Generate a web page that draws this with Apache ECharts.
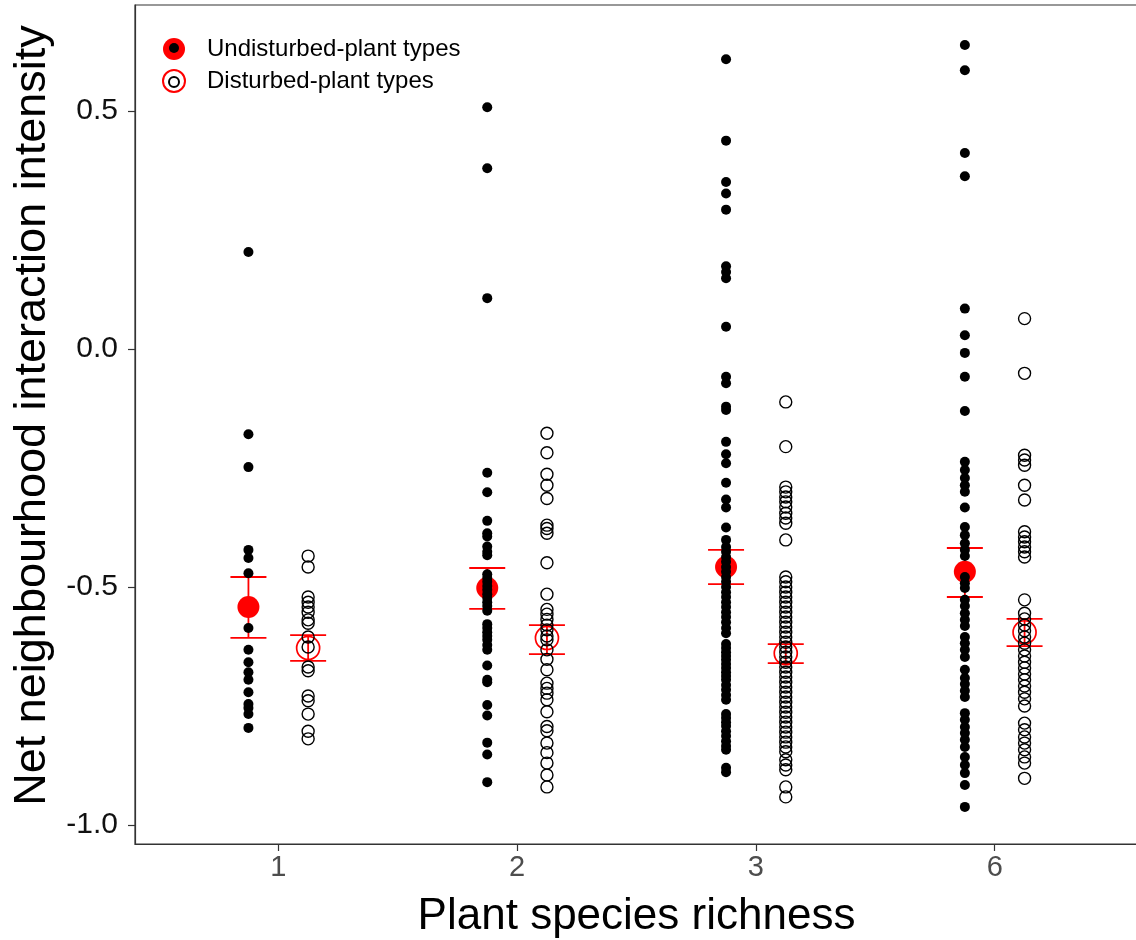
<!DOCTYPE html>
<html>
<head>
<meta charset="utf-8">
<title>Net neighbourhood interaction intensity</title>
<script src="https://cdn.jsdelivr.net/npm/echarts@6.0.0/dist/echarts.min.js"></script>
<style>
  html, body { margin: 0; padding: 0; background: #fff; }
  #chart { width: 1136px; height: 940px; }
</style>
</head>
<body>
<div id="chart"></div>
<script>
const richness = ['1', '2', '3', '6']

// raw NInt values per richness level
const undisturbed = [
  [0.204, -0.179, -0.248, -0.422, -0.439, -0.471, -0.586, -0.632, -0.658, -0.679, -0.695, -0.721, -0.746, -0.754, -0.767, -0.796],
  [0.508, 0.380, 0.107, -0.260, -0.301, -0.361, -0.387, -0.394, -0.415, -0.426, -0.433, -0.473, -0.481, -0.489, -0.498, -0.506, -0.515, -0.523, -0.532, -0.540, -0.550, -0.578, -0.586, -0.595, -0.603, -0.611, -0.622, -0.632, -0.665, -0.695, -0.700, -0.748, -0.770, -0.827, -0.852, -0.910],
  [0.609, 0.438, 0.351, 0.327, 0.293, 0.174, 0.162, 0.149, 0.047, -0.058, -0.072, -0.121, -0.128, -0.195, -0.221, -0.240, -0.281, -0.316, -0.333, -0.375, -0.401, -0.416, -0.426, -0.437, -0.447, -0.458, -0.468, -0.479, -0.489, -0.500, -0.511, -0.521, -0.532, -0.542, -0.553, -0.563, -0.574, -0.586, -0.597, -0.620, -0.628, -0.637, -0.645, -0.653, -0.662, -0.670, -0.679, -0.687, -0.695, -0.706, -0.716, -0.727, -0.737, -0.767, -0.775, -0.784, -0.792, -0.803, -0.813, -0.824, -0.834, -0.842, -0.880, -0.889],
  [0.639, 0.586, 0.412, 0.363, 0.085, 0.029, -0.008, -0.058, -0.130, -0.237, -0.254, -0.271, -0.286, -0.300, -0.333, -0.374, -0.391, -0.408, -0.422, -0.435, -0.479, -0.492, -0.502, -0.527, -0.540, -0.555, -0.569, -0.582, -0.605, -0.618, -0.632, -0.647, -0.674, -0.691, -0.704, -0.718, -0.731, -0.765, -0.779, -0.794, -0.807, -0.821, -0.836, -0.857, -0.874, -0.891, -0.916, -0.962],
]
const disturbed = [
  [-0.435, -0.458, -0.521, -0.532, -0.542, -0.553, -0.569, -0.576, -0.605, -0.626, -0.668, -0.676, -0.729, -0.739, -0.767, -0.803, -0.819],
  [-0.177, -0.218, -0.263, -0.286, -0.314, -0.370, -0.377, -0.387, -0.449, -0.515, -0.547, -0.557, -0.568, -0.580, -0.590, -0.603, -0.611, -0.632, -0.652, -0.674, -0.702, -0.713, -0.723, -0.737, -0.762, -0.793, -0.802, -0.828, -0.848, -0.870, -0.895, -0.920],
  [-0.111, -0.205, -0.290, -0.300, -0.311, -0.321, -0.332, -0.345, -0.355, -0.366, -0.401, -0.479, -0.489, -0.500, -0.511, -0.521, -0.532, -0.542, -0.553, -0.563, -0.574, -0.584, -0.595, -0.605, -0.616, -0.626, -0.637, -0.647, -0.658, -0.668, -0.679, -0.689, -0.700, -0.710, -0.721, -0.731, -0.742, -0.752, -0.763, -0.773, -0.784, -0.794, -0.805, -0.815, -0.826, -0.836, -0.846, -0.863, -0.874, -0.884, -0.920, -0.941],
  [0.064, -0.051, -0.223, -0.233, -0.244, -0.286, -0.317, -0.384, -0.395, -0.405, -0.416, -0.426, -0.437, -0.527, -0.555, -0.567, -0.580, -0.592, -0.605, -0.618, -0.632, -0.645, -0.658, -0.670, -0.683, -0.695, -0.708, -0.721, -0.735, -0.750, -0.786, -0.800, -0.815, -0.828, -0.842, -0.857, -0.870, -0.902],
]

// group means with error bar limits
const meanU = [-0.542, -0.502, -0.458, -0.468]
const lowU = [-0.607, -0.546, -0.494, -0.521]
const highU = [-0.479, -0.460, -0.422, -0.418]
const meanD = [-0.628, -0.607, -0.639, -0.595]
const lowD = [-0.655, -0.641, -0.660, -0.624]
const highD = [-0.601, -0.580, -0.620, -0.567]

const yTicks = [-1, -0.5, 0, 0.5]
const DODGE = 0.125
const FONT = "'Liberation Sans', Arial, sans-serif"

const posU = (i) => i + 1 - DODGE
const posD = (i) => i + 1 + DODGE

const pointsOf = (groups, pos) => groups.flatMap((vals, i) => vals.map(v => [pos(i), v]))

function renderErrorBar(params, api) {
  const x = api.value(0)
  const top = api.coord([x, api.value(2)])
  const bot = api.coord([x, api.value(1)])
  const half = 18
  const style = { stroke: '#ff0000', lineWidth: 1.8 }
  return {
    type: 'group',
    children: [
      { type: 'line', shape: { x1: top[0], y1: top[1], x2: bot[0], y2: bot[1] }, style },
      { type: 'line', shape: { x1: top[0] - half, y1: top[1], x2: top[0] + half, y2: top[1] }, style },
      { type: 'line', shape: { x1: bot[0] - half, y1: bot[1], x2: bot[0] + half, y2: bot[1] }, style },
    ],
  }
}

const chart = echarts.init(document.getElementById('chart'))
chart.setOption({
  animation: false,
  backgroundColor: '#fff',
  textStyle: { fontFamily: FONT },
  grid: {
    left: 135, right: -2, top: 5, bottom: 96,
    outerBoundsMode: 'none', containLabel: false,
    show: true, borderColor: '#333', borderWidth: 1.2,
  },
  legend: [
    {
      left: 157, top: 32, orient: 'vertical', selectedMode: false,
      itemWidth: 22, itemHeight: 22, itemGap: 8,
      data: ['Undisturbed-plant types', 'Disturbed-plant types'],
      textStyle: { fontSize: 24, color: '#000', lineHeight: 22, fontFamily: FONT, padding: [0, 0, 0, 17] },
      z: 4,
    },
    {
      left: 163, top: 38, orient: 'vertical', selectedMode: false,
      itemWidth: 10, itemHeight: 10, itemGap: 23,
      data: ['Undisturbed points', 'Disturbed points'],
      formatter: () => '',
      textStyle: { fontSize: 1, lineHeight: 10 },
      z: 5,
    },
  ],
  xAxis: {
    type: 'value', min: 0.4, max: 4.6,
    splitLine: { show: false },
    axisLine: { show: true, onZero: false, lineStyle: { color: '#333', width: 1.2 } },
    axisTick: { show: true, length: 7, customValues: [1, 2, 3, 4], lineStyle: { color: '#333', width: 1.2 } },
    axisLabel: {
      customValues: [1, 2, 3, 4], margin: 9,
      formatter: (v) => richness[Math.round(v) - 1],
      fontSize: 29, color: '#4d4d4d', fontFamily: FONT,
    },
    name: 'Plant species richness', nameLocation: 'middle', nameGap: 51,
    nameTextStyle: { fontSize: 44, color: '#000', fontFamily: FONT },
  },
  yAxis: {
    type: 'value', min: -1.04, max: 0.723,
    splitLine: { show: false },
    axisLine: { show: true, onZero: false, lineStyle: { color: '#333', width: 1.2 } },
    axisTick: { show: true, length: 7, customValues: yTicks, lineStyle: { color: '#333', width: 1.2 } },
    axisLabel: {
      customValues: yTicks, margin: 17,
      formatter: (v) => v.toFixed(1),
      fontSize: 30, color: '#111', fontFamily: FONT,
    },
    name: 'Net neighbourhood interaction intensity', nameLocation: 'middle', nameGap: 78,
    nameTextStyle: { fontSize: 45, color: '#000', fontFamily: FONT, padding: [0, 0, 0, 18] },
  },
  series: [
    {
      type: 'custom', name: 'errU', renderItem: renderErrorBar, z: 2,
      data: meanU.map((m, i) => [posU(i), lowU[i], highU[i]]),
    },
    {
      type: 'custom', name: 'errD', renderItem: renderErrorBar, z: 2,
      data: meanD.map((m, i) => [posD(i), lowD[i], highD[i]]),
    },
    {
      type: 'scatter', name: 'Undisturbed-plant types', symbol: 'circle', symbolSize: 22, z: 2,
      itemStyle: { color: '#ff0000', opacity: 1 },
      data: meanU.map((m, i) => [posU(i), m]),
    },
    {
      type: 'scatter', name: 'Disturbed-plant types', symbol: 'circle', symbolSize: 23, z: 2,
      itemStyle: { color: 'rgba(0,0,0,0)', borderColor: '#ff0000', borderWidth: 1.7, opacity: 1 },
      data: meanD.map((m, i) => [posD(i), m]),
    },
    {
      type: 'scatter', name: 'Undisturbed points', symbol: 'circle', symbolSize: 10, z: 3,
      itemStyle: { color: '#000', opacity: 1 },
      data: pointsOf(undisturbed, posU),
    },
    {
      type: 'scatter', name: 'Disturbed points', symbol: 'circle', symbolSize: 12, z: 3,
      itemStyle: { color: 'rgba(0,0,0,0)', borderColor: '#000', borderWidth: 1.4, opacity: 1 },
      data: pointsOf(disturbed, posD),
    },
  ],
})
</script>
</body>
</html>
